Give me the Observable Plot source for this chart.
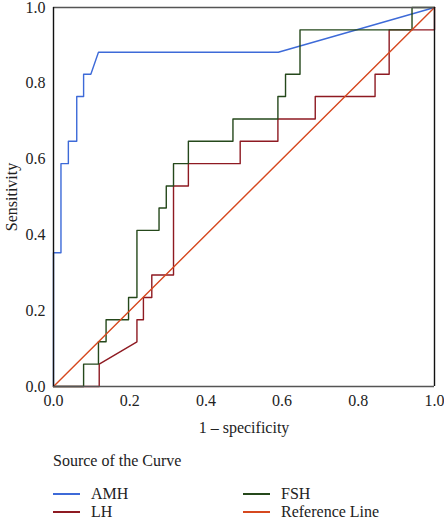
<!DOCTYPE html>
<html>
<head>
<meta charset="utf-8">
<script src="https://cdn.jsdelivr.net/npm/d3@7"></script>
<script src="https://cdn.jsdelivr.net/npm/@observablehq/plot@0.6"></script>
<style>
  html, body { margin: 0; padding: 0; background: #fff; }
  #wrap { position: relative; width: 444px; height: 520px; font-family: "Liberation Serif", "Times New Roman", serif; color: #222; overflow: hidden; }
  #legend { position: absolute; left: 0; top: 0; width: 444px; height: 520px; font-size: 16px; line-height: 15px; }
  .ttl { position: absolute; left: 53px; top: 453px; }
  .item { position: absolute; display: flex; align-items: center; white-space: nowrap; }
  .sw { display: inline-block; width: 27px; height: 2px; margin-right: 11px; }
</style>
</head>
<body>
<div id="wrap"><div id="chart"></div><div id="legend"></div></div>
<script>
const seriesNames = ["AMH", "LH", "FSH", "Reference Line"];
const seriesColors = ["#3d6ad8", "#8e1a22", "#25481b", "#d6481f"];

const amhX = [0, 0, 0.0196, 0.0196, 0.039, 0.039, 0.061, 0.061, 0.079, 0.079, 0.098, 0.118, 0.590, 1];
const amhY = [0, 0.353, 0.353, 0.588, 0.588, 0.647, 0.647, 0.765, 0.765, 0.824, 0.824, 0.882, 0.882, 1];

const lhX = [0, 0.12, 0.12, 0.219, 0.219, 0.236, 0.236, 0.258, 0.258, 0.315, 0.315, 0.354, 0.354, 0.49, 0.49, 0.589, 0.589, 0.687, 0.687, 0.844, 0.844, 0.881, 0.881, 1, 1];
const lhY = [0, 0, 0.059, 0.118, 0.176, 0.176, 0.235, 0.235, 0.294, 0.294, 0.529, 0.529, 0.588, 0.588, 0.647, 0.647, 0.706, 0.706, 0.765, 0.765, 0.824, 0.824, 0.941, 0.941, 1];

const fshX = [0, 0.079, 0.079, 0.118, 0.118, 0.138, 0.138, 0.197, 0.197, 0.219, 0.219, 0.277, 0.277, 0.296, 0.296, 0.315, 0.315, 0.354, 0.354, 0.471, 0.471, 0.589, 0.589, 0.609, 0.609, 0.647, 0.647, 0.941, 0.941, 1];
const fshY = [0, 0, 0.059, 0.059, 0.118, 0.118, 0.176, 0.176, 0.235, 0.235, 0.412, 0.412, 0.471, 0.471, 0.529, 0.529, 0.588, 0.588, 0.647, 0.647, 0.706, 0.706, 0.765, 0.765, 0.824, 0.824, 0.941, 0.941, 1, 1];

const refX = [0, 1];
const refY = [0, 1];

const tickValues = [0, 0.2, 0.4, 0.6, 0.8, 1.0];

const toPts = (xs, ys) => xs.map((x, i) => ({x, y: ys[i]}));
const series = [
  toPts(amhX, amhY),
  toPts(lhX, lhY),
  toPts(fshX, fshY),
  toPts(refX, refY)
];
const drawOrder = [0, 1, 2, 3];

const chart = Plot.plot({
  width: 444,
  height: 440,
  marginLeft: 53,
  marginRight: 10,
  marginTop: 7,
  marginBottom: 54,
  style: { fontFamily: "Liberation Serif, Times New Roman, serif", fontSize: "16px", color: "#222", background: "#fff" },
  x: { domain: [0, 1] },
  y: { domain: [0, 1] },
  marks: [
    ...drawOrder.map(i => Plot.line(series[i], { x: "x", y: "y", stroke: seriesColors[i], strokeWidth: 1.4 })),
    Plot.ruleY([0, 1], { stroke: "#555", strokeWidth: 1.4 }),
    Plot.ruleX([0, 1], { stroke: "#111", strokeWidth: 1.4 }),
    Plot.axisX({ ticks: tickValues, tickSize: 0, tickPadding: 8, fontSize: 16, tickFormat: d3.format(".1f"), label: "1 – specificity", labelAnchor: "center", labelArrow: "none", labelOffset: 46 }),
    Plot.axisY({ ticks: tickValues, tickSize: 0, tickPadding: 8, fontSize: 16, tickFormat: d3.format(".1f"), label: "Sensitivity", labelAnchor: "center", labelArrow: "none", labelOffset: 48 })
  ]
});
document.getElementById("chart").appendChild(chart);

const legend = document.getElementById("legend");
const t = document.createElement("div");
t.className = "ttl";
t.textContent = "Source of the Curve";
legend.appendChild(t);
const pos = [[53, 486], [53, 504], [243, 486], [243, 504]];
seriesNames.forEach((name, i) => {
  const d = document.createElement("div");
  d.className = "item";
  d.style.left = pos[i][0] + "px";
  d.style.top = pos[i][1] + "px";
  const sw = document.createElement("span");
  sw.className = "sw";
  sw.style.backgroundColor = seriesColors[i];
  const tx = document.createElement("span");
  tx.textContent = name;
  d.appendChild(sw);
  d.appendChild(tx);
  legend.appendChild(d);
});
</script>
</body>
</html>
